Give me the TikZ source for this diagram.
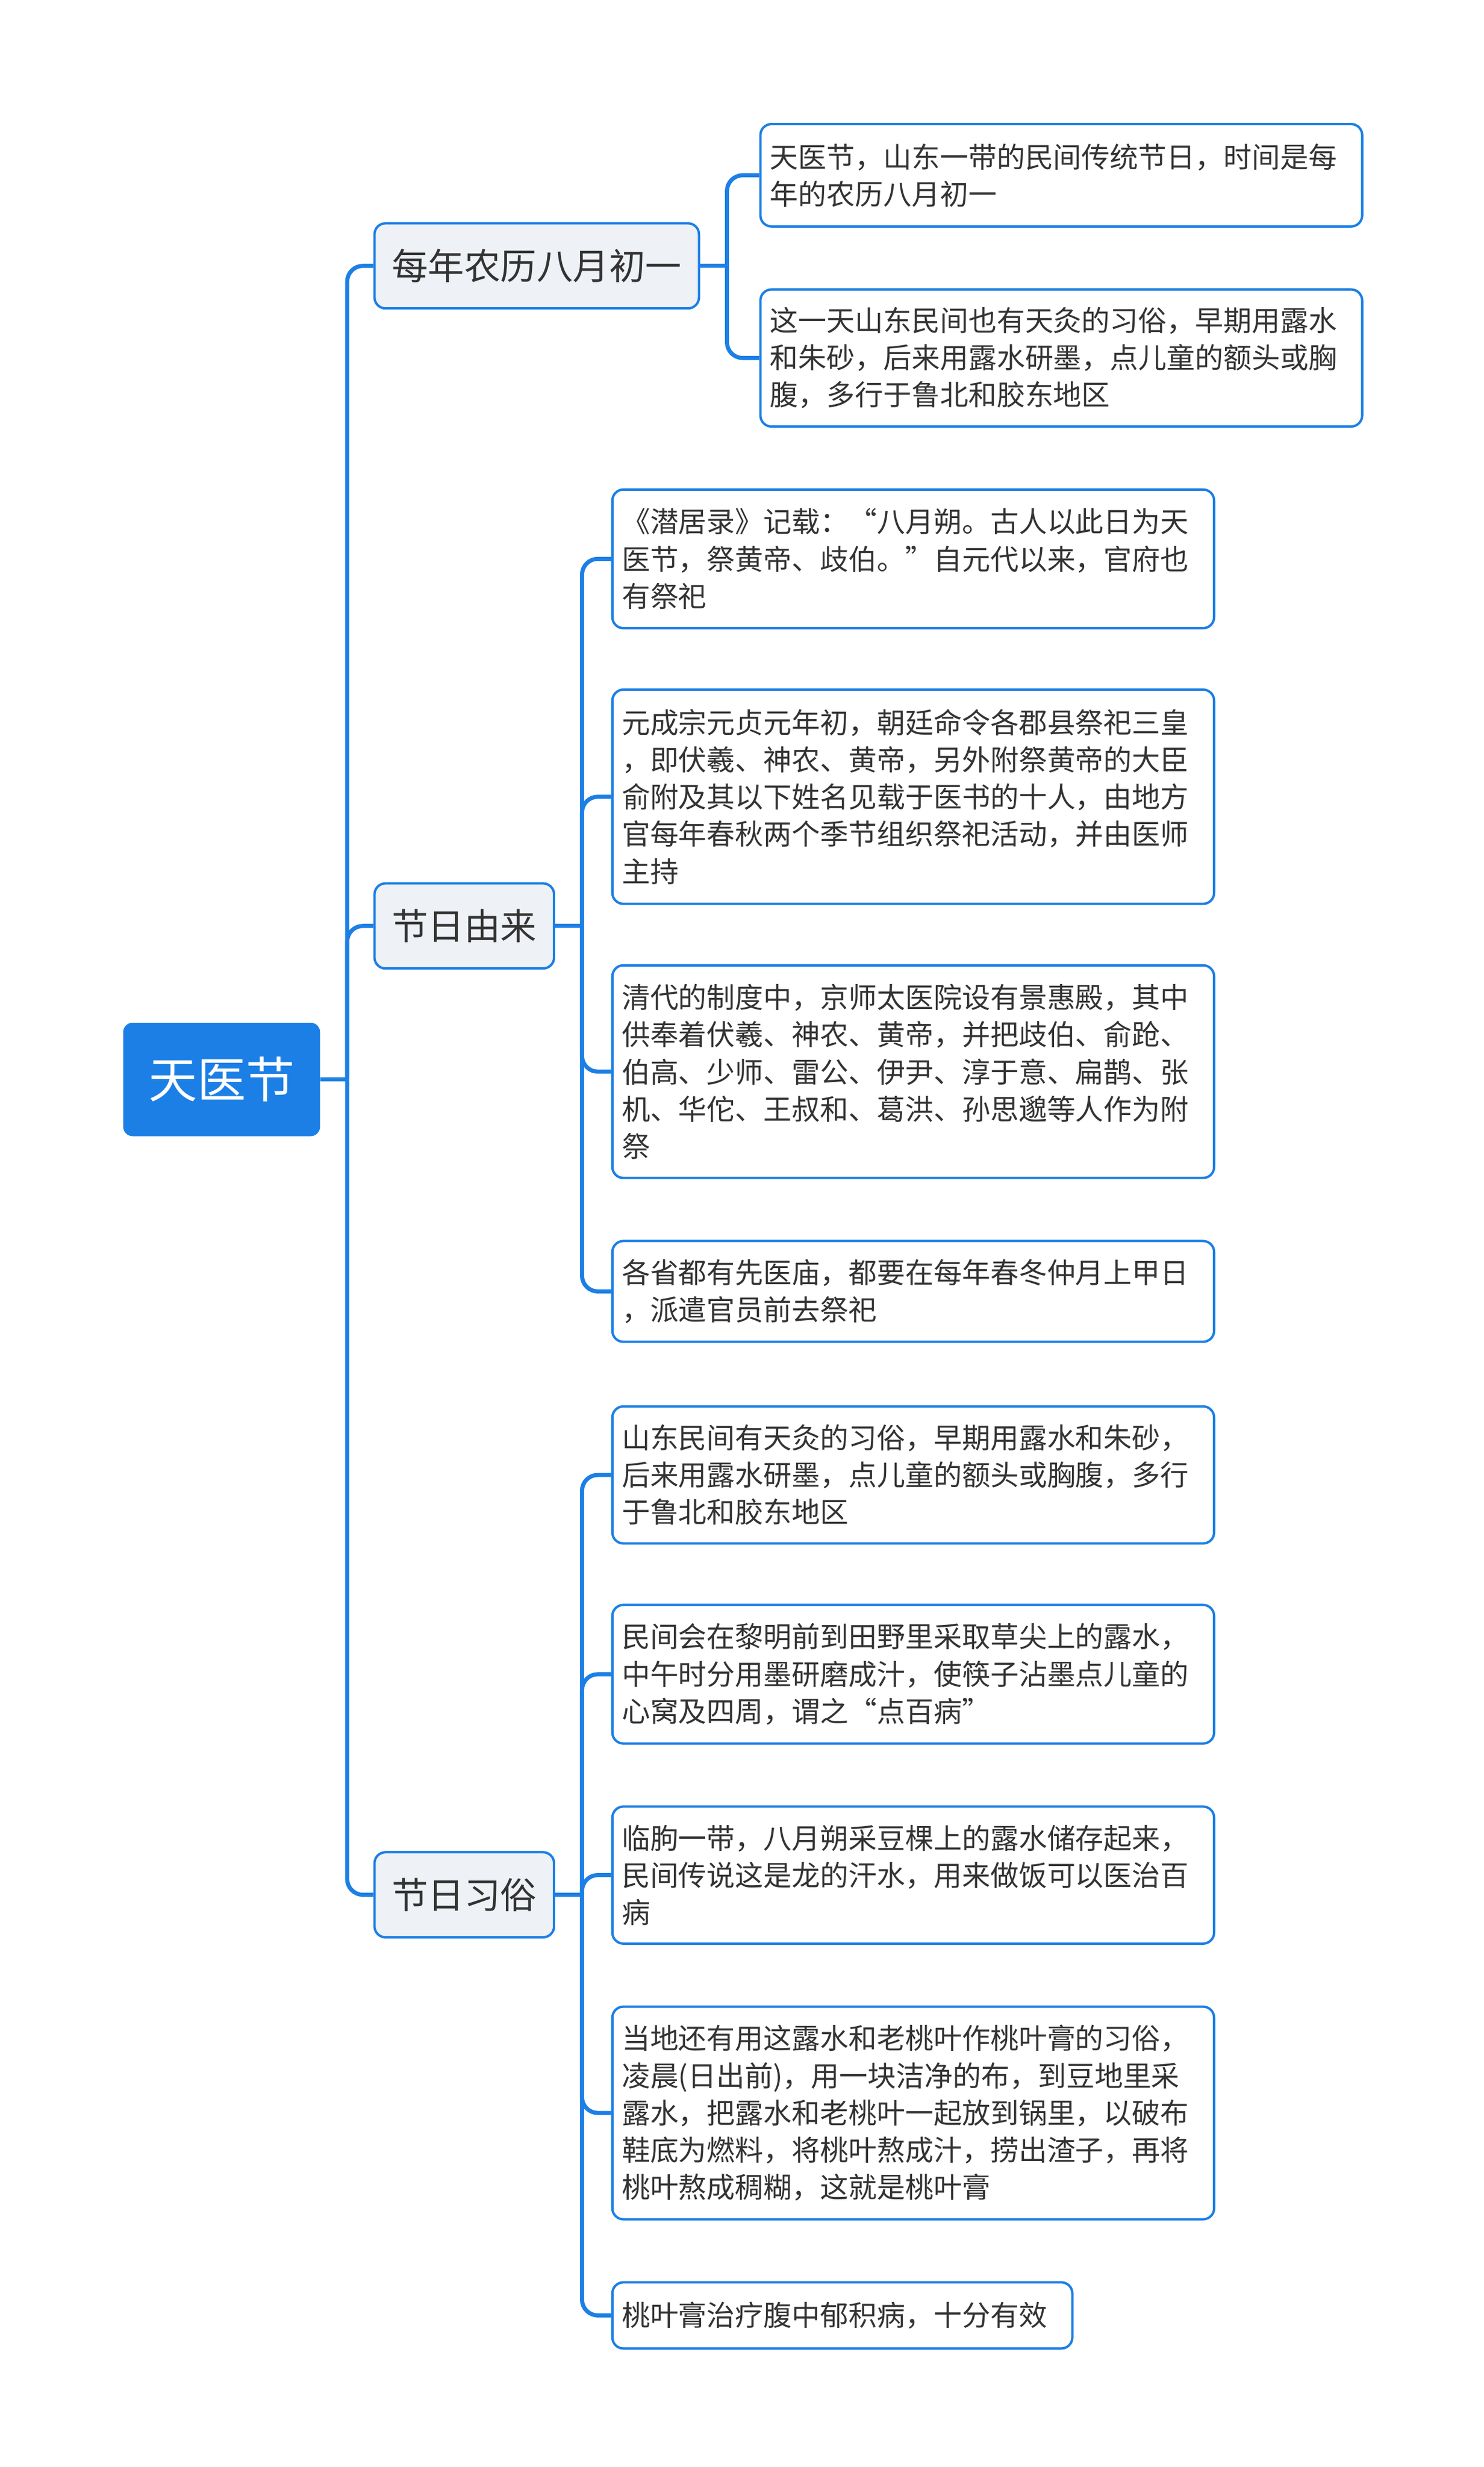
\documentclass[tikz,border=0pt]{standalone}
\usepackage{fontspec}
\setmainfont{Noto Sans CJK SC}
\usetikzlibrary{calc}
\definecolor{mblue}{HTML}{1C7FE6}
\definecolor{lgray}{HTML}{EEF1F5}
\definecolor{txt}{HTML}{333333}
\tikzset{
 rootbox/.style={anchor=north west,rectangle,rounded corners=6pt,fill=mblue,text=white,
   minimum width=125pt,minimum height=72pt,font=\fontsize{31}{36}\selectfont},
 l1box/.style={anchor=north west,rectangle,rounded corners=7pt,fill=lgray,draw=mblue,line width=1.5pt,
   minimum height=54pt,inner xsep=11pt,text=txt,font=\fontsize{23}{28}\selectfont},
 leafbox/.style={anchor=north west,rectangle,rounded corners=7pt,fill=white,draw=mblue,line width=1.5pt,
   inner xsep=6pt,text width=#1,align=left,text=txt,font=\fontsize{18}{23.6}\selectfont},
 leafbox/.default=370pt,
 conn/.style={draw=mblue,line width=2.6pt,rounded corners=10pt}
}
\begin{document}
\begin{tikzpicture}[x=1pt,y=-1pt]
\useasboundingbox[fill=white] (0,0) rectangle (942,1566);
\node[rootbox] (root) at (78,649) {天医节};
\node[l1box] (n1) at (237,141) {每年农历八月初一};
\node[l1box] (n2) at (237,560) {节日由来};
\node[l1box] (n3) at (237,1175) {节日习俗};

\node[leafbox,minimum height=65pt] (a1) at (482,78) {天医节，山东一带的民间传统节日，时间是每\\年的农历八月初一};
\node[leafbox,minimum height=87pt] (a2) at (482,183) {这一天山东民间也有天灸的习俗，早期用露水\\和朱砂，后来用露水研墨，点儿童的额头或胸\\腹，多行于鲁北和胶东地区};

\node[leafbox,minimum height=88pt] (b1) at (388,310) {《潜居录》记载：“八月朔。古人以此日为天\\医节，祭黄帝、歧伯。”自元代以来，官府也\\有祭祀};
\node[leafbox,minimum height=136pt] (b2) at (388,437) {元成宗元贞元年初，朝廷命令各郡县祭祀三皇\\，即伏羲、神农、黄帝，另外附祭黄帝的大臣\\俞附及其以下姓名见载于医书的十人，由地方\\官每年春秋两个季节组织祭祀活动，并由医师\\主持};
\node[leafbox,minimum height=135pt] (b3) at (388,612) {清代的制度中，京师太医院设有景惠殿，其中\\供奉着伏羲、神农、黄帝，并把歧伯、俞跄、\\伯高、少师、雷公、伊尹、淳于意、扁鹊、张\\机、华佗、王叔和、葛洪、孙思邈等人作为附\\祭};
\node[leafbox,minimum height=64pt] (b4) at (388,787) {各省都有先医庙，都要在每年春冬仲月上甲日\\，派遣官员前去祭祀};

\node[leafbox,minimum height=87pt] (c1) at (388,892) {山东民间有天灸的习俗，早期用露水和朱砂，\\后来用露水研墨，点儿童的额头或胸腹，多行\\于鲁北和胶东地区};
\node[leafbox,minimum height=88pt] (c2) at (388,1018) {民间会在黎明前到田野里采取草尖上的露水，\\中午时分用墨研磨成汁，使筷子沾墨点儿童的\\心窝及四周，谓之“点百病”};
\node[leafbox,minimum height=87pt] (c3) at (388,1146) {临朐一带，八月朔采豆棵上的露水储存起来，\\民间传说这是龙的汗水，用来做饭可以医治百\\病};
\node[leafbox,minimum height=135pt] (c4) at (388,1273) {当地还有用这露水和老桃叶作桃叶膏的习俗，\\凌晨(日出前)，用一块洁净的布，到豆地里采\\露水，把露水和老桃叶一起放到锅里，以破布\\鞋底为燃料，将桃叶熬成汁，捞出渣子，再将\\桃叶熬成稠糊，这就是桃叶膏};
\node[leafbox=280pt,minimum height=42pt] (c5) at (388,1448) {桃叶膏治疗腹中郁积病，十分有效};

\coordinate (rj) at ($(root.east)+(17,0)$);
\draw[conn] (root.east) -- (rj);
\foreach \n in {n1,n2,n3} \draw[conn] (rj) |- (\n.west);

\coordinate (j1) at ($(n1.east)+(17,0)$);
\draw[conn] (n1.east) -- (j1);
\foreach \n in {a1,a2} \draw[conn] (j1) |- (\n.west);

\coordinate (j2) at ($(n2.east)+(17,0)$);
\draw[conn] (n2.east) -- (j2);
\foreach \n in {b1,b2,b3,b4} \draw[conn] (j2) |- (\n.west);

\coordinate (j3) at ($(n3.east)+(17,0)$);
\draw[conn] (n3.east) -- (j3);
\foreach \n in {c1,c2,c3,c4,c5} \draw[conn] (j3) |- (\n.west);
\end{tikzpicture}
\end{document}
